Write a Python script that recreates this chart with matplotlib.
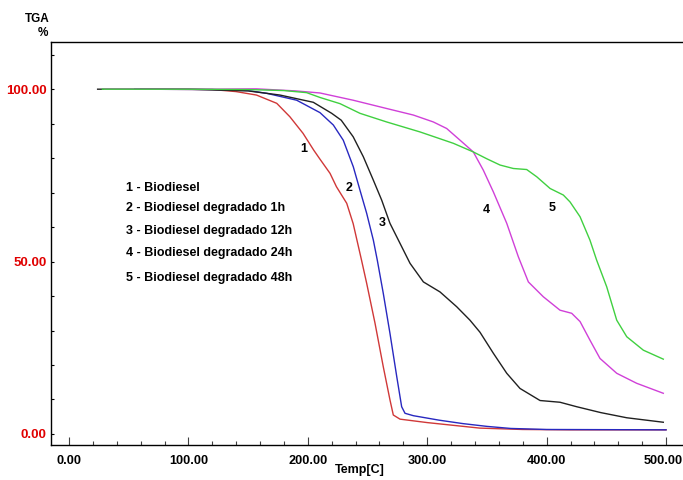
import matplotlib
matplotlib.use("Agg")
import matplotlib.pyplot as plt
from matplotlib.ticker import MultipleLocator
from matplotlib.transforms import ScaledTranslation

plt.rcParams['font.family'] = ['Liberation Sans', 'DejaVu Sans']
plt.rcParams['font.weight'] = 'bold'

# Series data (temperature in C, mass %)
t1 = [60, 120, 140, 157, 174, 185, 196, 205, 210, 218.6, 224, 232.6, 238, 245, 249.3,
      256.3, 263.2, 268.8, 271.6, 277.2, 300, 344, 380, 420, 500]
w1 = [100, 99.9, 99.3, 98.3, 95.9, 92, 87.2, 82.3, 79.8, 75.6, 71.7, 66.9, 61, 50.4, 43.7,
      32.1, 19.5, 9.9, 5.5, 4.3, 3.3, 1.7, 1.3, 1.2, 1.2]

t2 = [55, 120, 150, 165.6, 190.7, 210.2, 221.4, 229.7, 238.1, 243.7, 249.3, 254.9, 258.2,
      263.2, 268.8, 274.5, 278.6, 281.4, 288.4, 310, 330, 350, 370, 400, 500]
w2 = [100, 99.9, 99.6, 98.8, 96.8, 93.2, 89.6, 85.2, 77.5, 70.7, 64, 56.2, 50.4,
      40.8, 29.2, 16.6, 7.9, 6.0, 5.3, 4.0, 3.0, 2.2, 1.6, 1.3, 1.2]

t3 = [24, 100, 150, 176.7, 204.6, 220, 228, 238, 246.5, 254.9, 261.9, 268.8, 277.2, 285.6,
      296.8, 310.7, 324.7, 335.8, 344.2, 355.4, 366.6, 377.7, 394.5, 411.2, 425.2, 445.3,
      467.1, 497.7]
w3 = [100, 100, 99.5, 98.3, 96.2, 93, 91, 86.2, 80.4, 73.6, 67.8, 61.1, 55.3, 49.5,
      44.1, 41.2, 36.9, 33, 29.5, 23.4, 17.6, 13.2, 9.7, 9.2, 7.9, 6.2,
      4.7, 3.4]

t4 = [30, 120, 157, 190, 210.2, 238, 266, 288.4, 305.1, 316.3, 327.5, 338.6, 347, 355.4,
      366.6, 376.3, 384.7, 397.2, 411.2, 421, 428, 436.3, 444.7, 458.7, 475.4, 497.7]
w4 = [100, 100, 100.1, 99.5, 98.9, 96.8, 94.4, 92.5, 90.5, 88.6, 85.2, 81.8, 76.5, 70.2,
      61.1, 51.4, 44.1, 39.8, 35.9, 35.0, 32.6, 27.2, 21.9, 17.6, 14.7, 11.8]

t5 = [28, 100, 150, 180, 199, 210.2, 227, 243.7, 266, 294, 321.9, 338.6, 350, 361, 372.1,
      383.3, 391.7, 402.9, 414, 419.6, 428, 436.3, 441.9, 450.3, 458.7, 467.1, 481, 497.7]
w5 = [100, 100, 99.9, 99.6, 99.0, 97.6, 95.8, 93, 90.5, 87.6, 84.3, 81.8, 79.8, 78, 77,
      76.7, 74.6, 71.2, 69.3, 67.3, 63, 56.2, 50.4, 42.7, 33, 28.2, 24.3, 21.7]

legend_lines = ["1 - Biodiesel", "2 - Biodiesel degradado 1h", "3 - Biodiesel degradado 12h",
                "4 - Biodiesel degradado 24h", "5 - Biodiesel degradado 48h"]
legend_y = [71.2, 65.4, 58.8, 52.4, 45.1]
curve_labels = ["1", "2", "3", "4", "5"]
curve_label_x = [196.8, 234.8, 262.7, 349.8, 404.3]
curve_label_y = [82.6, 71.2, 61.1, 64.9, 65.6]

xticks = [0, 100, 200, 300, 400, 500]
xticklabels = ["0.00", "100.00", "200.00", "300.00", "400.00", "500.00"]
yticks = [0, 50, 100]
yticklabels = ["0.00", "50.00", "100.00"]

fig = plt.figure(figsize=(6.83, 4.8), dpi=100)
ax = fig.add_axes([50.7 / 683, 1 - 445 / 480, 1 - 50.7 / 683, (445 - 42.3) / 480])

ax.plot(t1, w1, color='#d03838', lw=1.0)
ax.plot(t2, w2, color='#2828c0', lw=1.0)
ax.plot(t3, w3, color='#202020', lw=1.0)
ax.plot(t4, w4, color='#d040d8', lw=1.0)
ax.plot(t5, w5, color='#40d040', lw=1.0)

ax.set_xlim(-15.3, 514.2)
ax.set_ylim(-3.2, 113.6)

ax.spines['right'].set_visible(False)
for s in ['left', 'bottom', 'top']:
    ax.spines[s].set_linewidth(1.0)

ax.set_xticks(xticks)
ax.set_xticklabels(xticklabels, fontsize=9.2, fontweight='bold')
ax.xaxis.set_minor_locator(MultipleLocator(20))
ax.set_yticks(yticks)
ax.set_yticklabels(yticklabels, fontsize=9.5, fontweight='bold', color='#e00000')
ax.yaxis.set_minor_locator(MultipleLocator(10))

ax.tick_params(axis='x', which='major', direction='in', length=6, width=0.8, pad=7, color='#404040')
ax.tick_params(axis='x', which='minor', direction='in', length=3, width=0.8, color='#404040')
ax.tick_params(axis='y', which='both', direction='in', length=2, width=0.8, pad=3)

# keep the last x label inside the picture
last = ax.get_xticklabels()[-1]
last.set_transform(last.get_transform() + ScaledTranslation(-3 / 100, 0, fig.dpi_scale_trans))

for txt, yv in zip(legend_lines, legend_y):
    ax.text(47.7, yv, txt, fontsize=9, fontweight='bold', va='center', ha='left')
for lab, xv, yv in zip(curve_labels, curve_label_x, curve_label_y):
    ax.text(xv, yv, lab, fontsize=9, fontweight='bold', va='center', ha='center')

fig.text(360 / 683, 1 - 470 / 480, "Temp[C]", fontsize=9, fontweight='bold', ha='center', va='center')
fig.text(50 / 683, 1 - 19 / 480, "TGA", fontsize=8.5, fontweight='bold', ha='right', va='center')
fig.text(48 / 683, 1 - 33.5 / 480, "%", fontsize=8.5, fontweight='bold', ha='right', va='center')

fig.savefig("out.png", dpi=100)
